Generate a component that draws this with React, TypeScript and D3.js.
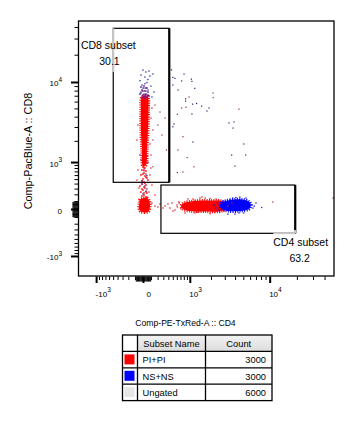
import React from 'react';
import * as d3 from 'd3';

// ---------------- data ----------------
const xDomain = [-1850, 50000];
const yDomain = [-1900, 47000];
const biexConstant = 460;

const xTitle = 'Comp-PE-TxRed-A :: CD4';
const yTitle = 'Comp-PacBlue-A :: CD8';

const majorTickValues = [-1000, 0, 1000, 10000];
const majorTickBase = ['-10', '0', '10', '10'];
const majorTickExp = ['3', '', '3', '4'];

const gateNames = ['CD8 subset', 'CD4 subset'];
const gatePercents = ['30.1', '63.2'];
const gateXMin = [-509, 248];
const gateXMax = [403, 18800];
const gateYMin = [438, -366];
const gateYMax = [39190, 380];
const gateNameX = [-1690, 10820];
const gateNameY = [23370, -669];
const gatePctX = [-604, 21180];
const gatePctY = [15630, -1201];
const gateFadedEdges: number[][][] = [
  [[-509, 39190, -509, 13080]],
  [[10800, -366, 18800, -366], [18800, -301, 18800, -366]],
];

// dense population outlines (data units)
const piCd8Core: [number, number][] = [
  [-17, 6860], [48, 7040], [60, 4860], [54, 2790], [41, 1527], [29, 915],
  [-6, 880], [-17, 1527], [-29, 2790], [-29, 4860],
];
const piCd8Low: [number, number][] = [
  [-41, 128], [41, 150], [73, 107], [80, 41], [60, -23], [-29, -27], [-54, 17], [-48, 80],
];
const piCd4Core: [number, number][] = [
  [790, 80], [1178, 107], [2030, 114], [2725, 107], [3050, 80], [3050, 17],
  [2725, -17], [1636, -23], [990, -17], [760, 6], [700, 41],
];
const nsCd4Core: [number, number][] = [
  [2725, 86], [3420, 121], [4760, 128], [5740, 100], [6050, 54], [5740, 6],
  [4490, -17], [3230, -17], [2725, 6], [2570, 48],
];

// individual events
const nsCd8Top: [number, number][] = [
  [-6, 13750], [29, 13080], [67, 13400], [-29, 12100], [17, 11510], [80, 11800], [121, 12420],
  [41, 10000], [-17, 9370], [93, 9100], [6, 8670], [54, 8230], [136, 7820], [-29, 7610],
  [29, 7230], [107, 6860], [-6, 8670], [29, 8020], [54, 7230], [-29, 7820], [6, 7420],
  [-41, 10500], [54, 10800], [17, 9700],
];
const mixCd8Top: [number, number][] = [
  [-29, 8900], [6, 9130], [41, 8670], [-17, 8230], [17, 8020], [54, 7820], [-41, 7420],
  [-6, 7230], [29, 7420], [67, 7040], [-17, 6860], [17, 6680], [41, 6860], [-6, 8020],
  [6, 7040], [29, 8670],
];
const piCd8Mid: [number, number][] = [
  [-6, 848], [17, 817], [-17, 755], [29, 726], [6, 669], [-29, 615], [17, 589], [41, 538],
  [-6, 514], [6, 444], [-17, 401], [29, 380], [17, 320], [-6, 283], [-29, 247], [41, 230],
  [6, 197], [-17, 181], [29, 165], [54, 490], [-41, 360], [6, 740], [-6, 640], [29, 560],
  [-17, 470], [17, 420], [6, 340], [-17, 300], [29, 260], [6, 230],
];
const mixCd8Mid: [number, number][] = [
  [6, 785], [29, 641], [-17, 467], [17, 360], [41, 301], [-6, 213],
  [-41, 1300], [54, 1000], [41, 600], [-17, 400], [29, 250], [-29, 1100], [48, 1250],
];
const piFringe: [number, number][] = [
  [93, 3905], [121, 2790], [80, 1845], [-67, 3215], [-80, 2080], [107, 5120], [93, 1297],
  [-67, 755], [80, 615], [107, 380], [-54, 320], [67, 247], [151, 197], [-80, 490], [93, 817],
  [107, 80], [151, 41], [197, 29], [231, 67],
  [321, 41], [381, 67], [425, 17], [469, 80], [540, -6], [591, 54], [644, 93], [700, 6], [284, 17], [492, -17],
  [918, 136], [1392, 150], [1914, 143], [1178, -41], [1914, -48], [820, -41], [1486, 165],
  [3230, 41], [3610, 80], [1100, 136], [1650, 150], [2300, 136], [1300, -35], [2200, -35],
  [600, 30], [650, 80],
];
const nsFringe: [number, number][] = [
  [2425, 80], [2290, 17], [2500, -6], [2160, 54],
  [4490, 165], [6210, 54], [6910, 80], [5000, -41], [3230, -54], [4040, 158], [3930, -54], [6380, 17],
  [5300, 150], [3700, 150], [4400, -40], [6600, 40],
];
const nsSparse: [number, number][] = [
  [460, 13800], [490, 11400], [540, 11100], [790, 12420], [720, 10400], [1040, 10900],
  [1060, 10300], [1170, 8600], [490, 9370], [617, 8230], [840, 6530], [840, 6150],
  [1085, 5680], [1245, 5780], [1470, 5400], [1856, 5120], [1742, 4720], [1060, 4360],
  [516, 3310], [490, 3060], [1098, 1960], [3330, 3400], [3830, 3500], [3730, 2950],
  [5000, 1845], [3590, 1297], [5270, 1297], [3930, 880], [8020, 23],
];
const piSparse: [number, number][] = [
  [955, 6860], [2100, 7610], [2110, 6750], [4380, 4970], [720, 5120], [851, 5230],
  [600, 4320], [758, 2300], [617, 1527], [890, 1190], [758, 697], [600, 680], [1138, 855],
  [48800, 150], [10700, 93], [350, 1527], [121, 855], [151, 5550], [231, 4600], [197, 3215],
  [266, 2413], [121, 2080], [321, 3905],
];

// legend table
const tableHeaders = ['Subset Name', 'Count'];
const subsetNames = ['PI+PI', 'NS+NS', 'Ungated'];
const subsetCounts = [3000, 3000, 6000];
const subsetColors = ['#ff0000', '#0000ff', '#e6e6e6'];

// ---------------- chart ----------------
export default function App() {
  const W = 355, H = 421;
  const left = 78, right = 334, top = 21, bottom = 276;
  const x = d3.scaleSymlog().constant(biexConstant).domain(xDomain).range([left, right]);
  const y = d3.scaleSymlog().constant(biexConstant).domain(yDomain).range([bottom, top]);
  const poly = d3.line<[number, number]>().x(d => x(d[0])).y(d => y(d[1])).curve(d3.curveCatmullRomClosed);

  const minor = [
    ...d3.range(-900, -99, 100), ...d3.range(100, 901, 100),
    ...d3.range(2000, 9001, 1000), ...d3.range(20000, 90001, 10000),
  ];
  const nearZero = [...d3.range(-90, -9, 10), ...d3.range(10, 91, 10)];
  const xMinor = minor.filter(v => v > xDomain[0] && v < xDomain[1]);
  const yMinor = minor.filter(v => v > yDomain[0] && v < yDomain[1]);

  const dots = (pts: [number, number][], color: string, s: number, key: string) =>
    pts.map((d, i) => (
      <rect key={key + i} x={x(d[0]) - s / 2} y={y(d[1]) - s / 2} width={s} height={s} fill={color} />
    ));

  const blob = (pts: [number, number][], color: string) => (
    <g>
      <path d={poly(pts) || ''} fill="none" stroke={color} strokeWidth={3.2} strokeDasharray="1 1.3" />
      <path d={poly(pts) || ''} fill={color} />
    </g>
  );

  const axisFont = 'Liberation Sans, Arial, sans-serif';
  const tickFont = 8;
  const supFont = 6.5;

  // table layout
  const tL = 122.5, tTop = 335, rowH = 16.4;
  const colX = [tL, 137.5, 205.5, 272];
  const nRows = subsetNames.length + 1;

  return (
    <svg width={W} height={H} style={{ position: 'absolute', left: 0, top: 0, background: '#fff' }}
      fontFamily={axisFont}>
      <defs>
        <linearGradient id="hdr" x1="0" y1="0" x2="0" y2="1">
          <stop offset="0" stopColor="#f2f2f2" />
          <stop offset="1" stopColor="#dcdcdc" />
        </linearGradient>
      </defs>
      <rect x={0} y={0} width={W} height={H} fill="#fff" />

      {/* populations */}
      {blob(piCd8Core, '#ff0000')}
      {blob(piCd8Low, '#ff0000')}
      {blob(piCd4Core, '#ff0000')}
      {blob(nsCd4Core, '#0000ff')}
      {dots(piCd8Mid, '#ff1010', 1.6, 'pm')}
      {dots(mixCd8Mid, '#7a2090', 1.4, 'mm')}
      {dots(mixCd8Top, '#6a2098', 1.6, 'mt')}
      {dots(piFringe, '#e01515', 1.3, 'pf')}
      {dots(nsFringe, '#1010e0', 1.3, 'nf')}
      {dots(nsCd8Top, '#2a2aa8', 1.3, 'nt')}
      {dots(nsSparse, '#1e1e78', 1.2, 'ns')}
      {dots(piSparse, '#8c2626', 1.2, 'ps')}

      {/* gates */}
      {gateNames.map((g, i) => {
        const x0 = x(gateXMin[i]), x1 = x(gateXMax[i]);
        const y0 = y(gateYMax[i]), y1 = y(gateYMin[i]);
        return (
          <g key={g}>
            <rect x={x0} y={y0} width={x1 - x0} height={y1 - y0} fill="none" stroke="#000" strokeWidth={1.2} />
            <line x1={x1 + 0.4} x2={x1 + 0.4} y1={y0} y2={y1} stroke="#000" strokeWidth={2} />
            {gateFadedEdges[i].map((s, j) => (
              <line key={j} x1={x(s[0])} y1={y(s[1])} x2={x(s[2])} y2={y(s[3])}
                stroke="#c8c8c8" strokeWidth={j === 1 || (i === 0) ? 2.2 : 1.6} />
            ))}
            <text x={x(gateNameX[i])} y={y(gateNameY[i])} fontSize={10.5} fill="#000">{g}</text>
            <text x={x(gatePctX[i])} y={y(gatePctY[i])} fontSize={10.5} textAnchor="middle" fill="#000">{gatePercents[i]}</text>
          </g>
        );
      })}

      {/* frame */}
      <rect x={left + 0.5} y={top} width={right - left - 0.5} height={bottom - top} fill="none" stroke="#000" strokeWidth={1.3} />

      {/* x axis ticks */}
      {xMinor.map(v => <line key={'xm' + v} x1={x(v)} x2={x(v)} y1={bottom + 0.5} y2={bottom + 4} stroke="#000" strokeWidth={1} />)}
      {nearZero.map(v => <line key={'xz' + v} x1={x(v)} x2={x(v)} y1={bottom + 0.5} y2={bottom + 5.5} stroke="#000" strokeWidth={1} />)}
      {majorTickValues.map(v => <line key={'xM' + v} x1={x(v)} x2={x(v)} y1={bottom + 0.5} y2={bottom + 7} stroke="#000" strokeWidth={2} />)}
      {majorTickValues.map((v, i) => (
        <text key={'xl' + v} x={x(v) + (v === 0 ? 3 : -1)} y={296.5} fontSize={tickFont} fill="#000">
          {majorTickBase[i]}
          {majorTickExp[i] && <tspan fontSize={supFont} dy={-4.6}>{majorTickExp[i]}</tspan>}
        </text>
      ))}

      {/* y axis ticks */}
      {yMinor.map(v => <line key={'ym' + v} y1={y(v)} y2={y(v)} x1={left} x2={left - 3.5} stroke="#000" strokeWidth={1} />)}
      {nearZero.map(v => <line key={'yz' + v} y1={y(v)} y2={y(v)} x1={left} x2={left - 5.5} stroke="#000" strokeWidth={1} />)}
      {majorTickValues.map(v => <line key={'yM' + v} y1={y(v)} y2={y(v)} x1={left} x2={left - 7} stroke="#000" strokeWidth={2} />)}
      {majorTickValues.map((v, i) => (
        <text key={'yl' + v} x={62} y={y(v) + 4} fontSize={tickFont} textAnchor="end" fill="#000">
          {majorTickBase[i]}
          {majorTickExp[i] && <tspan fontSize={supFont} dy={-4.6}>{majorTickExp[i]}</tspan>}
        </text>
      ))}

      {/* axis titles */}
      <text x={185.5} y={326} fontSize={8.6} textAnchor="middle" fill="#000">{xTitle}</text>
      <text transform="translate(31.5,151) rotate(-90)" fontSize={10.8} textAnchor="middle" fill="#000">{yTitle}</text>

      {/* legend table */}
      <g fontSize={9.3}>
        <rect x={colX[1]} y={tTop} width={colX[3] - colX[1]} height={rowH} fill="url(#hdr)" />
        <text x={(colX[1] + colX[2]) / 2} y={tTop + 12} textAnchor="middle" fill="#000" style={{ whiteSpace: 'pre' }}>{tableHeaders[0]}</text>
        <text x={(colX[2] + colX[3]) / 2} y={tTop + 12} textAnchor="middle" fill="#000">{tableHeaders[1]}</text>
        {subsetNames.map((n, i) => {
          const ry = tTop + rowH * (i + 1);
          return (
            <g key={n}>
              <rect x={colX[0] + 2} y={ry + 3} width={10} height={10} fill={subsetColors[i]} />
              <text x={colX[1] + 5} y={ry + 12} fill="#000">{n}</text>
              <text x={colX[3] - 6} y={ry + 12} textAnchor="end" fill="#000">{subsetCounts[i]}</text>
            </g>
          );
        })}
        <rect x={colX[0]} y={tTop} width={colX[3] - colX[0]} height={rowH * nRows} fill="none" stroke="#000" strokeWidth={1.3} />
        {colX.slice(1, 3).map(cx => <line key={'c' + cx} x1={cx} x2={cx} y1={tTop} y2={tTop + rowH * nRows} stroke="#000" strokeWidth={1.3} />)}
        {d3.range(1, nRows).map(r => <line key={'r' + r} x1={colX[0]} x2={colX[3]} y1={tTop + rowH * r} y2={tTop + rowH * r} stroke="#000" strokeWidth={1.3} />)}
      </g>
    </svg>
  );
}
